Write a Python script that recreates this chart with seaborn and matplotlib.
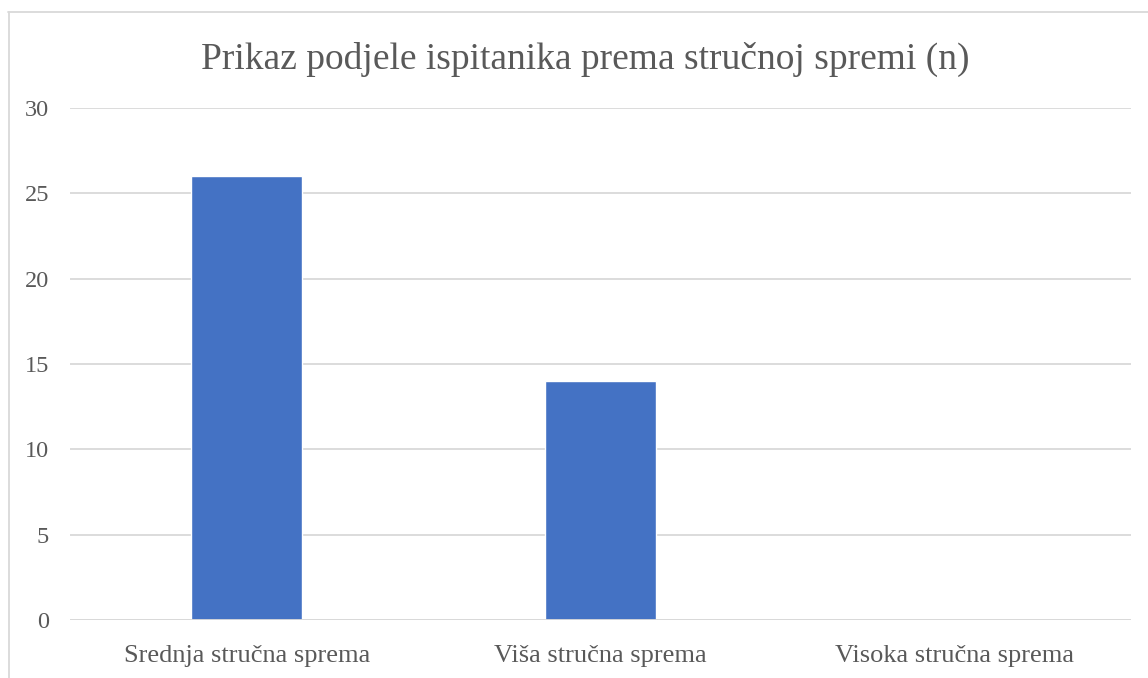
import seaborn as sns
import matplotlib.pyplot as plt
from matplotlib.lines import Line2D

# data
categories = ["Srednja stručna sprema", "Viša stručna sprema", "Visoka stručna sprema"]
counts = [26, 14, 0]
title = "Prikaz podjele ispitanika prema stručnoj spremi (n)"

sns.set_theme(style="white")
plt.rcParams['font.family'] = ['Liberation Serif', 'DejaVu Serif']

text_color = "#595959"
grid_color = "#D9D9D9"
bar_color = "#4472C4"

W, H = 1148, 678
fig = plt.figure(figsize=(W / 100, H / 100), dpi=100)
ax = fig.add_axes([70 / W, 1 - 620 / H, (1131 - 70) / W, (620 - 108) / H])

sns.barplot(x=categories, y=counts, color=bar_color, saturation=1,
            width=0.314, ax=ax)

ax.set_ylim(0, 30)
ax.set_xlim(-0.5, 2.5)
ax.set_yticks(range(0, 31, 5))
ax.yaxis.grid(True, color=grid_color, linewidth=1.3)
ax.set_axisbelow(True)
for s in ax.spines.values():
    s.set_visible(False)
ax.axhline(0, color=grid_color, linewidth=1.3, zorder=3)

ax.tick_params(axis='both', length=0, colors=text_color)
ax.tick_params(axis='y', pad=15, labelsize=17.5)
ax.tick_params(axis='x', pad=18, labelsize=19)
ax.set_xlabel("")
ax.set_ylabel("")

fig.text(585 / W, 1 - 59 / H, title, ha='center', va='center',
         fontsize=27, color=text_color)

# chart area border (left and top edges visible)
fig.add_artist(Line2D([8.5 / W, 8.5 / W], [0, 1 - 12 / H], color=grid_color,
                      linewidth=1.3, transform=fig.transFigure))
fig.add_artist(Line2D([8 / W, 1], [1 - 12 / H, 1 - 12 / H], color=grid_color,
                      linewidth=1.3, transform=fig.transFigure))

fig.savefig("out.png", dpi=100, facecolor="white")
